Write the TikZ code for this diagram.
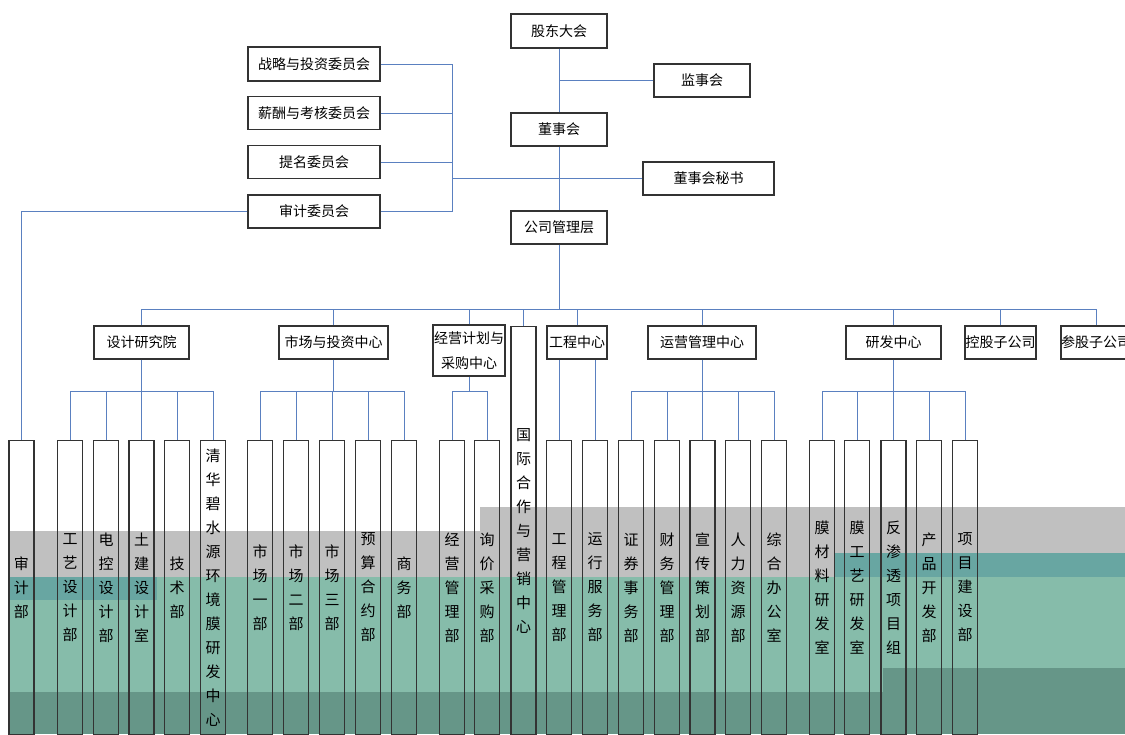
\documentclass[tikz,border=0pt]{standalone}
\usepackage{fontspec}
\setmainfont{Noto Sans CJK SC}
\usetikzlibrary{positioning,calc}
\definecolor{linkblue}{RGB}{90,128,192}
\definecolor{bandgrey}{RGB}{192,192,192}
\definecolor{bandteal}{RGB}{134,188,170}
\definecolor{darkteal}{RGB}{104,166,162}
\definecolor{deepteal}{RGB}{102,150,136}
\tikzset{box/.style={draw=black!80, line width=1.2pt, inner sep=0pt, minimum height=33pt, align=center, font=\fontsize{14}{25}\selectfont}}
\tikzset{vbox/.style={draw=black!80, line width=1.2pt, inner sep=0pt, anchor=north, minimum width=25pt, text width=25pt, minimum height=294pt, align=center, font=\fontsize{15}{24}\selectfont}}
\tikzset{link/.style={linkblue, line width=1pt}}

\begin{document}
\begin{tikzpicture}[x=1pt, y=-1pt]
\useasboundingbox (0,0) rectangle (1125,734);
\clip (0,0) rectangle (1125,734);
\fill[white] (0,0) rectangle (1125,734);
% colour bands of the scan
\fill[bandgrey] (8,531) rectangle (480,577);
\fill[bandgrey] (480,507) rectangle (1125,577);
\fill[darkteal] (835,553) rectangle (1125,577);
\fill[bandteal] (8,577) rectangle (1125,692);
\fill[darkteal] (8,577) rectangle (157,600);
\fill[deepteal] (8,692) rectangle (1125,734);
\fill[deepteal] (883,668) rectangle (1125,692);

% board level
\node[box, minimum width=96pt, minimum height=34pt] (gd) at (559,31) {股东大会};
\node[box, minimum width=96pt] (jsh) at (702,80.5) {监事会};
\node[box, minimum width=96pt] (dsh) at (559,129.5) {董事会};
\node[box, minimum width=131pt] (msh) at (708.5,178.5) {董事会秘书};
\node[box, minimum width=96pt] (glc) at (559,227.5) {公司管理层};
\node[box, minimum width=132pt, minimum height=34pt] (zltz) at (314,64) {战略与投资委员会};
\node[box, minimum width=132pt] (xckh) at (314,113) {薪酬与考核委员会};
\node[box, minimum width=132pt] (tmwy) at (314,162) {提名委员会};
\node[box, minimum width=132pt] (sjwy) at (314,211.5) {审计委员会};

% centres
\node[box, minimum width=95pt] (sjy) at (141.5,342.5) {设计研究院};
\node[box, minimum width=109pt] (sctz) at (333.5,342.5) {市场与投资中心};
\node[box, minimum width=72pt, minimum height=51pt] (jycg) at (469,350.5) {经营计划与\\采购中心};
\node[vbox, minimum height=408pt] (gjyx) at (523.5,326) {国\\际\\合\\作\\与\\营\\销\\中\\心};
\node[box, minimum width=60pt] (gczx) at (577,342.5) {工程中心};
\node[box, minimum width=108pt] (yygl) at (702,342.5) {运营管理中心};
\node[box, minimum width=95pt] (yfzx) at (893.5,342.5) {研发中心};
\node[box, minimum width=71pt] (kgzgs) at (1000.5,342.5) {控股子公司};
\node[box, minimum width=70pt] (cgzgs) at (1096,342.5) {参股子公司};

% departments
\node[vbox] (sjb) at (21.5,440) {审\\计\\部};
\node[vbox] (gysj) at (70,440) {工\\艺\\设\\计\\部};
\node[vbox] (dksj) at (106,440) {电\\控\\设\\计\\部};
\node[vbox] (tjsj) at (141.5,440) {土\\建\\设\\计\\室};
\node[vbox] (jsb) at (177,440) {技\\术\\部};
\node[vbox] (qhby) at (213,440) {清\\华\\碧\\水\\源\\环\\境\\膜\\研\\发\\中\\心};
\node[vbox] (sc1) at (260,440) {市\\场\\一\\部};
\node[vbox] (sc2) at (296,440) {市\\场\\二\\部};
\node[vbox] (sc3) at (332,440) {市\\场\\三\\部};
\node[vbox] (yshy) at (368,440) {预\\算\\合\\约\\部};
\node[vbox] (swb) at (404,440) {商\\务\\部};
\node[vbox] (jygl) at (452,440) {经\\营\\管\\理\\部};
\node[vbox] (xjcg) at (487,440) {询\\价\\采\\购\\部};
\node[vbox] (gcgl) at (559,440) {工\\程\\管\\理\\部};
\node[vbox] (yxfw) at (595,440) {运\\行\\服\\务\\部};
\node[vbox] (zqsw) at (631,440) {证\\券\\事\\务\\部};
\node[vbox] (cwgl) at (667,440) {财\\务\\管\\理\\部};
\node[vbox] (xcch) at (702.5,440) {宣\\传\\策\\划\\部};
\node[vbox] (rlzy) at (738,440) {人\\力\\资\\源\\部};
\node[vbox] (zhbg) at (774,440) {综\\合\\办\\公\\室};
\node[vbox] (mcl) at (822,440) {膜\\材\\料\\研\\发\\室};
\node[vbox] (mgy) at (857,440) {膜\\工\\艺\\研\\发\\室};
\node[vbox] (fst) at (893.5,440) {反\\渗\\透\\项\\目\\组};
\node[vbox] (cpkf) at (929,440) {产\\品\\开\\发\\部};
\node[vbox] (xmjs) at (965,440) {项\\目\\建\\设\\部};

% board links
\draw[link] (gd.south) -- (dsh.north);
\draw[link] (dsh.south) -- (glc.north);
\draw[link] (jsh.west) -- (jsh.west -| gd.south);
\coordinate (wy) at (452,0);
\draw[link] (zltz.east) -- (zltz.east -| wy);
\draw[link] (xckh.east) -- (xckh.east -| wy);
\draw[link] (tmwy.east) -- (tmwy.east -| wy);
\draw[link] (sjwy.east) -- (sjwy.east -| wy);
\draw[link] (zltz.east -| wy) -- (sjwy.east -| wy);
\draw[link] (msh.west) -- (msh.west -| wy);
\draw[link] (sjwy.west) -| (sjb.north);

% centre links
\coordinate (bus) at (0,309);
\draw[link] (glc.south) -- (glc.south |- bus);
\draw[link] (sjy.north |- bus) -- (cgzgs.north |- bus);
\foreach \n in {sjy,sctz,jycg,gjyx,gczx,yygl,yfzx,kgzgs,cgzgs}
  \draw[link] (\n.north) -- (\n.north |- bus);

% department links
\coordinate (sub) at (0,391);
\draw[link] (sjy.south) -- (sjy.south |- sub);
\draw[link] (gysj.north |- sub) -- (qhby.north |- sub);
\foreach \n in {gysj,dksj,tjsj,jsb,qhby}
  \draw[link] (\n.north) -- (\n.north |- sub);
\draw[link] (sctz.south) -- (sctz.south |- sub);
\draw[link] (sc1.north |- sub) -- (swb.north |- sub);
\foreach \n in {sc1,sc2,sc3,yshy,swb}
  \draw[link] (\n.north) -- (\n.north |- sub);
\draw[link] (jycg.south) -- (jycg.south |- sub);
\draw[link] (jygl.north |- sub) -- (xjcg.north |- sub);
\foreach \n in {jygl,xjcg}
  \draw[link] (\n.north) -- (\n.north |- sub);
\draw[link] (gcgl.north) -- (gcgl.north |- gczx.south);
\draw[link] (yxfw.north) -- (yxfw.north |- gczx.south);
\draw[link] (yygl.south) -- (yygl.south |- sub);
\draw[link] (zqsw.north |- sub) -- (zhbg.north |- sub);
\foreach \n in {zqsw,cwgl,xcch,rlzy,zhbg}
  \draw[link] (\n.north) -- (\n.north |- sub);
\draw[link] (yfzx.south) -- (yfzx.south |- sub);
\draw[link] (mcl.north |- sub) -- (xmjs.north |- sub);
\foreach \n in {mcl,mgy,fst,cpkf,xmjs}
  \draw[link] (\n.north) -- (\n.north |- sub);
\end{tikzpicture}
\end{document}
